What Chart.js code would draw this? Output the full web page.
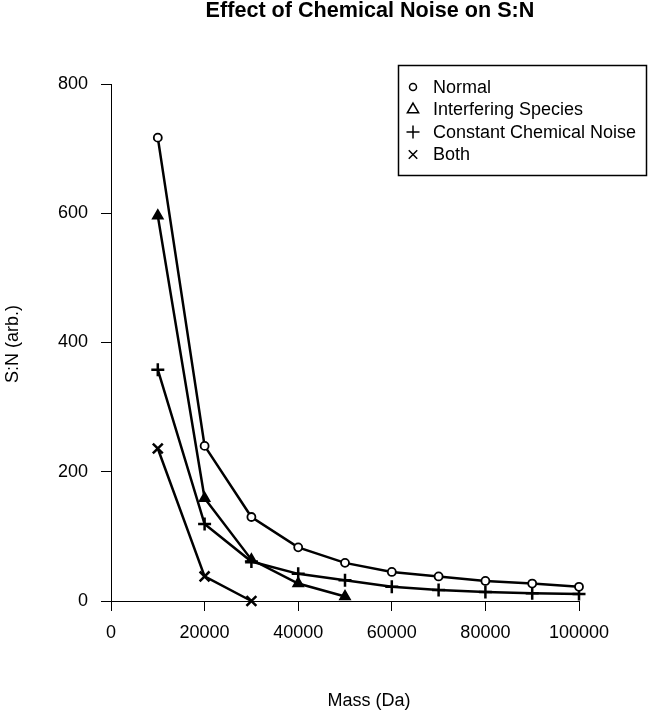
<!DOCTYPE html>
<html>
<head>
<meta charset="utf-8">
<script src="https://cdn.jsdelivr.net/npm/chart.js@4.4.1/dist/chart.umd.min.js"></script>
<style>
html,body{margin:0;padding:0;background:#fff;}
#wrap{width:650px;height:711px;position:relative;}
</style>
</head>
<body>
<div id="wrap"><canvas id="c"></canvas></div>
<script>
const chartTitle = "Effect of Chemical Noise on S:N";
const xTitle = "Mass (Da)";
const yTitle = "S:N (arb.)";

const masses = [10000, 20000, 30000, 40000, 50000, 60000, 70000, 80000, 90000, 100000];
const seriesNames = ["Normal", "Interfering Species", "Constant Chemical Noise", "Both"];
const normal = [717, 240, 130, 83, 59, 45, 38, 31, 27, 22];
const interfering = [596, 159, 64, 27, 7];
const constantNoise = [358, 119, 61, 42, 32, 22, 17, 14, 12, 11];
const both = [236, 38, 0];

const xTicks = [0, 20000, 40000, 60000, 80000, 100000];
const yTicks = [0, 200, 400, 600, 800];

const FONT = '"Liberation Sans", Arial, Helvetica, sans-serif';

function toPoints(vals) {
  return vals.map((v, i) => ({ x: masses[i], y: v }));
}

const legendRadius = [3.5, 6.5, 6.5, 6];

const annotate = {
  id: 'annotate',
  afterDraw(chart) {
    const ctx = chart.ctx;
    ctx.save();
    ctx.fillStyle = '#000';
    ctx.textAlign = 'center';
    ctx.textBaseline = 'alphabetic';
    ctx.font = 'bold 21.6px ' + FONT;
    ctx.fillText(chartTitle, 370, 17);
    ctx.font = '18px ' + FONT;
    ctx.fillText(xTitle, 369, 706);
    ctx.save();
    ctx.translate(18, 344);
    ctx.rotate(-Math.PI / 2);
    ctx.fillText(yTitle, 0, 0);
    ctx.restore();

    // legend box
    ctx.lineWidth = 1.5;
    ctx.strokeStyle = '#000';
    ctx.strokeRect(398.5, 65.5, 248, 110);
    ctx.textAlign = 'left';
    ctx.textBaseline = 'middle';
    chart.data.datasets.forEach((ds, i) => {
      const y = 87 + i * 22.5;
      ctx.fillStyle = '#fff';
      ctx.strokeStyle = '#000';
      Chart.helpers.drawPoint(ctx, {
        pointStyle: ds.pointStyle,
        radius: legendRadius[i],
        borderWidth: 1.3,
        rotation: 0
      }, 413, y);
      ctx.fillStyle = '#000';
      ctx.fillText(ds.label, 433, y + 1);
    });
    ctx.restore();
  }
};

const common = {
  borderColor: '#000',
  pointBorderColor: '#000',
  borderWidth: 2.5,
  tension: 0,
  fill: false,
  clip: false
};

new Chart(document.getElementById('c'), {
  type: 'line',
  data: {
    datasets: [
      Object.assign({}, common, {
        label: seriesNames[0], data: toPoints(normal),
        pointStyle: 'circle', pointRadius: 4, pointBorderWidth: 1.8, pointBackgroundColor: '#fff'
      }),
      Object.assign({}, common, {
        label: seriesNames[1], data: toPoints(interfering),
        pointStyle: 'triangle', pointRadius: 5.5, pointBorderWidth: 2, pointBackgroundColor: '#000'
      }),
      Object.assign({}, common, {
        label: seriesNames[2], data: toPoints(constantNoise),
        pointStyle: 'cross', pointRadius: 6.5, pointBorderWidth: 2.5, pointBackgroundColor: '#000'
      }),
      Object.assign({}, common, {
        label: seriesNames[3], data: toPoints(both),
        pointStyle: 'crossRot', pointRadius: 7, pointBorderWidth: 2.5, pointBackgroundColor: '#000'
      })
    ]
  },
  options: {
    responsive: true,
    maintainAspectRatio: false,
    animation: false,
    layout: { padding: { left: 0, right: 71, top: 84, bottom: 0 } },
    plugins: {
      legend: { display: false },
      title: { display: false },
      tooltip: { enabled: false }
    },
    scales: {
      x: {
        type: 'linear',
        min: xTicks[0],
        max: xTicks[xTicks.length - 1],
        afterFit: s => { s.height = 110; },
        afterBuildTicks: s => { s.ticks = xTicks.map(v => ({ value: v })); },
        grid: { drawOnChartArea: false, drawTicks: true, tickLength: 10, color: '#000', lineWidth: 1 },
        border: { display: true, color: '#000', width: 1 },
        ticks: {
          color: '#000', font: { family: FONT, size: 18 }, padding: 11,
          maxRotation: 0, autoSkip: false, callback: v => String(v)
        }
      },
      y: {
        type: 'linear',
        min: yTicks[0],
        max: yTicks[yTicks.length - 1],
        afterFit: s => { s.width = 111; },
        afterBuildTicks: s => { s.ticks = yTicks.map(v => ({ value: v })); },
        grid: { drawOnChartArea: false, drawTicks: true, tickLength: 10, color: '#000', lineWidth: 1 },
        border: { display: true, color: '#000', width: 1 },
        ticks: {
          color: '#000', font: { family: FONT, size: 18 }, padding: 13,
          autoSkip: false, callback: v => String(v)
        }
      }
    }
  },
  plugins: [annotate]
});
</script>
</body>
</html>
